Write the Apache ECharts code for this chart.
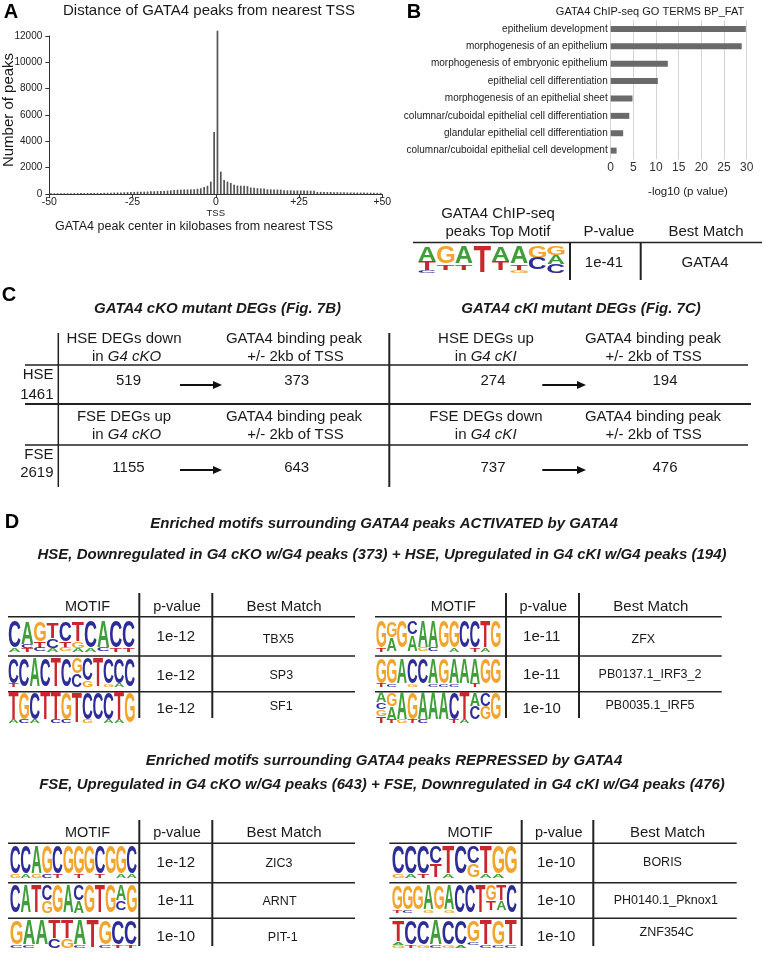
<!DOCTYPE html>
<html><head><meta charset="utf-8">
<script src="https://cdn.jsdelivr.net/npm/echarts@6/dist/echarts.min.js"></script>
<style>html,body{margin:0;padding:0;background:#fff}#c{width:765px;height:956px}</style>
</head><body><div id="c"></div>
<script>
// ---------------- DATA ----------------
// Panel A: peak counts per 1-kb bin, -50..0 kb and 0..+50 kb
const histCountsLeft = [50,50,55,55,60,60,60,65,65,70, 70,75,75,80,80,85,90,95,100,110,
  115,120,130,140,150,160,170,175,180,190, 200,210,220,230,240,260,280,300,320,330,
  340,350,355,360,400,430,530,630,940,4700];
const histCountsRight = [12400,1700,1060,940,840,700,640,630,620,600, 490,470,440,430,420,360,350,350,340,330,
  290,280,280,270,270,270,260,260,250,250, 160,160,150,150,150,140,140,130,130,120,
  120,120,110,110,110,100,100,100,90,90];
const histTickValues = [-50,-25,0,25,50];
const histTickLabels = ['-50','-25','0','+25','+50'];
const histTitle = 'Distance of GATA4 peaks from nearest TSS';
const histYName = 'Number of peaks';
const histXName = 'GATA4 peak center in kilobases from nearest TSS';

// Panel B: GO terms
const goTitle = 'GATA4 ChIP-seq GO TERMS BP_FAT';
const goTerms = ['epithelium development','morphogenesis of an epithelium','morphogenesis of embryonic epithelium',
  'epithelial cell differentiation','morphogenesis of an epithelial sheet','columnar/cuboidal epithelial cell differentiation',
  'glandular epithelial cell differentiation','columnar/cuboidal epithelial cell development'];
const goValues = [29.8, 28.9, 12.6, 10.4, 4.8, 4.1, 2.75, 1.3];
const goXName = '-log10 (p value)';

// Panel B: top motif table
const topMotifHeader = ['GATA4 ChIP-seq', 'peaks Top Motif', 'P-value', 'Best Match'];
const topMotifLogo = ['A5T3C1','G6T2','A6T2','T9','A5T3','A6T2G1','G4C4','G3A3C3'];
const topMotifP = '1e-41';
const topMotifMatch = 'GATA4';

// Panel C
const cTitles = ['GATA4 cKO mutant DEGs (Fig. 7B)', 'GATA4 cKI mutant DEGs (Fig. 7C)'];
const cRowLabels = [['HSE','1461'], ['FSE','2619']];
const cKOHeads = [['HSE DEGs down','G4 cKO'], ['FSE DEGs up','G4 cKO']];
const cKIHeads = [['HSE DEGs up','G4 cKI'], ['FSE DEGs down','G4 cKI']];
const cPeakHead = ['GATA4 binding peak', '+/- 2kb of TSS'];
const cKODegs = [519, 1155];
const cKOPeaks = [373, 643];
const cKIDegs = [274, 737];
const cKIPeaks = [194, 476];

// Panel D
const dTitles = ['Enriched motifs surrounding GATA4 peaks ACTIVATED by GATA4',
  'HSE, Downregulated in G4 cKO w/G4 peaks (373) + HSE, Upregulated in G4 cKI w/G4 peaks (194)',
  'Enriched motifs surrounding GATA4 peaks REPRESSED by GATA4',
  'FSE, Upregulated in G4 cKO w/G4 peaks (643) + FSE, Downregulated in G4 cKI w/G4 peaks (476)'];
const dHeader = ['MOTIF','p-value','Best Match'];
const actLeftNames = ['TBX5','SP3','SF1'];
const actLeftP = ['1e-12','1e-12','1e-12'];
const actLeftLogos = [
  ['C8A1','A7C1T1','G6T2C1','T5C3A1','C6T2G1','T6G2A1','C8A1','A8C1','C8T1','C8T1'],
  ['C8T1','C9','A9','C9','T9','C9','G5C4','C7G2','T9','C8G1','C8A1','C9'],
  ['T8A1','G8C1','C8A1','T8','T8C1','G8C1','T9','C8G1','C8','C8A1','T8A1','G9']];
const actRightNames = ['ZFX','PB0137.1_IRF3_2','PB0035.1_IRF5'];
const actRightP = ['1e-11','1e-11','1e-10'];
const actRightLogos = [
  ['G8T1','G5A4','G8','C4A5','A8G1','A8C1','G8','G8A1','C8','C8T1','T8A1','G8'],
  ['G8T1','G8C1','A8','C8G1','C8','A8C1','G8C1','A8C1','A8','A8T1','G8','G8'],
  ['A3C2G2T2','G4A4T1','A8G1','G8T1','A8C1','A8','A8','C8T1','T8A1','A4C4','C4G4','G8']];
const repLeftNames = ['ZIC3','ARNT','PIT-1'];
const repLeftP = ['1e-12','1e-11','1e-10'];
const repLeftLogos = [
  ['C8G1','C8A1','A8G1','G8C1','C8T1','G8','G8T1','G8','C8T1','G8','G8A1','C8A1'],
  ['C9','A9','T9','C5G4','G9','A9','C5A4','G9','T9','G9','A5C3','G9'],
  ['G8C1','A8C1','A8','T6C3','T6G3','A8C1','T9','G8C1','C8T1','C8T1']];
const repRightNames = ['BORIS','PH0140.1_Pknox1','ZNF354C'];
const repRightP = ['1e-10','1e-10','1e-10'];
const repRightLogos = [
  ['C8G1','C8A1','C8T1','C5T4','T8A1','C8','C5G4','T8A1','G8A1','G8'],
  ['G8T1','G8C1','G8','A8G1','G8','A8G1','C9','C9','T9','G5T3','T5A3','C9'],
  ['T7A1G1','C8T1','C8G1','A8C1','C8G1','C8A1','G7C1','T8C1','G8C1','T8C1']];

// ---------------- DRAWING ----------------
const LF = '"Liberation Sans", Arial, Helvetica, sans-serif';
const INK = '#1a1a1a';
function fnt(size, weight, style) { return (style || 'normal') + ' ' + (weight || 'normal') + ' ' + size + 'px ' + LF; }
const els = [];
function txt(x, y, s, size, opt) {
  opt = opt || {};
  const al = opt.align || 'center';
  const st = {text: s, x: 0, y: 0, font: fnt(size, opt.weight, opt.style), fill: opt.fill || INK,
    textAlign: al, textVerticalAlign: 'middle', align: al, verticalAlign: 'middle'};
  if (opt.rich) st.rich = opt.rich;
  els.push({type: 'text', silent: true, x: x, y: y, rotation: opt.rot || 0, style: st});
}
function ln(x1, y1, x2, y2, w, c) {
  els.push({type: 'line', silent: true, shape: {x1, y1, x2, y2}, style: {stroke: c || '#222', lineWidth: w || 1.5}});
}
function arrow(x1, x2, y) {
  ln(x1, y, x2 - 8, y, 2, '#111');
  els.push({type: 'polygon', silent: true, shape: {points: [[x2 - 9, y - 4], [x2, y], [x2 - 9, y + 4]]}, style: {fill: '#111'}});
}
const LOGO_FONT = 'bold 100px "Liberation Sans", Arial, sans-serif';
const LOGO_COLORS = {A: '#3f9e3a', C: '#2c2d98', G: '#f2a42c', T: '#c8282d'};
const mctx = document.createElement('canvas').getContext('2d');
mctx.font = LOGO_FONT; mctx.textBaseline = 'middle'; mctx.textAlign = 'center';
const mcache = {};
function measure(L) {
  if (!mcache[L]) {
    const m = mctx.measureText(L);
    mcache[L] = {asc: m.actualBoundingBoxAscent, h: m.actualBoundingBoxAscent + m.actualBoundingBoxDescent,
      left: m.actualBoundingBoxLeft, w: m.actualBoundingBoxLeft + m.actualBoundingBoxRight};
  }
  return mcache[L];
}
function logo(cols, x0, x1, y0, y1) {
  const n = cols.length, cw = (x1 - x0) / n, H = y1 - y0;
  cols.forEach((spec, i) => {
    const parts = spec.match(/[ACGT]\d/g);
    let y = y0;
    parts.forEach(p => {
      const L = p[0], h = (+p[1]) / 10 * H;
      if (h >= 0.8) {
        const m = measure(L);
        const sx = (cw * 0.94) / m.w, sy = (h * 0.96) / m.h;
        const gx = x0 + i * cw + cw * 0.03;
        els.push({type: 'text', silent: true, x: gx + m.left * sx, y: y + m.asc * sy, scaleX: sx, scaleY: sy,
          style: {text: L, x: 0, y: 0, font: LOGO_FONT, fill: LOGO_COLORS[L], textAlign: 'center', textVerticalAlign: 'middle', align: 'center', verticalAlign: 'middle'}});
      }
      y += h;
    });
  });
}

// Panel letters
txt(11, 12, 'A', 20, {weight: 'bold', fill: '#000'});
txt(414, 12, 'B', 20, {weight: 'bold', fill: '#000'});
txt(9, 295, 'C', 20, {weight: 'bold', fill: '#000'});
txt(12, 522, 'D', 20, {weight: 'bold', fill: '#000'});

// Panel A texts
txt(209, 11, histTitle, 15);
txt(9, 110, histYName, 15, {rot: Math.PI / 2});
txt(194, 227, histXName, 12.5);

// Panel B texts
txt(650, 12, goTitle, 11);
txt(688, 192, goXName, 11.5);
txt(498, 214, topMotifHeader[0], 15);
txt(498, 232, topMotifHeader[1], 15);
txt(609, 232, topMotifHeader[2], 15);
txt(706, 232, topMotifHeader[3], 15);
ln(413, 242.5, 762, 242.5, 1.5);
ln(570, 242.5, 570, 280, 2);
ln(640.7, 242.5, 640.7, 280, 2);
txt(604, 262.5, topMotifP, 15);
txt(705, 262.5, topMotifMatch, 15);
logo(topMotifLogo, 418, 565, 246.5, 276);

// Panel C
const itRich = {i: {font: fnt(15, 'normal', 'italic'), fontSize: 15, fontFamily: LF, fontStyle: 'italic', fill: INK}};
txt(217.5, 308.5, cTitles[0], 15, {weight: 'bold', style: 'italic'});
txt(581, 308.5, cTitles[1], 15, {weight: 'bold', style: 'italic'});
ln(58.3, 333, 58.3, 487, 1.5);
ln(389.3, 333, 389.3, 487, 2);
ln(25, 365, 748, 365, 1.5);
ln(25, 404, 751, 404, 2);
ln(25, 445, 748, 445, 1.5);
const cRowY = [[339.3, 357.3, 381, 385, 375, 395], [417.3, 435, 468.3, 470, 455, 473.3]];
for (let r = 0; r < 2; r++) {
  const [h1, h2, vy, ay, l1, l2] = cRowY[r];
  txt(53.5, l1, cRowLabels[r][0], 15, {align: 'right'});
  txt(53.5, l2, cRowLabels[r][1], 15, {align: 'right'});
  txt(124, h1, cKOHeads[r][0], 15);
  txt(126.5, h2, 'in {i|' + cKOHeads[r][1] + '}', 15, {rich: itRich});
  txt(294, h1, cPeakHead[0], 15);
  txt(295.5, h2, cPeakHead[1], 15);
  txt(128.5, vy, String(cKODegs[r]), 15);
  arrow(180, 222, ay);
  txt(296.7, vy, String(cKOPeaks[r]), 15);
  txt(486, h1, cKIHeads[r][0], 15);
  txt(485.7, h2, 'in {i|' + cKIHeads[r][1] + '}', 15, {rich: itRich});
  txt(653, h1, cPeakHead[0], 15);
  txt(653.7, h2, cPeakHead[1], 15);
  txt(493, vy, String(cKIDegs[r]), 15);
  arrow(542.3, 586, ay);
  txt(665, vy, String(cKIPeaks[r]), 15);
}

// Panel D
txt(384, 523.5, dTitles[0], 15, {weight: 'bold', style: 'italic'});
txt(382, 555, dTitles[1], 15, {weight: 'bold', style: 'italic'});
txt(384, 761, dTitles[2], 15, {weight: 'bold', style: 'italic'});
txt(382, 785, dTitles[3], 15, {weight: 'bold', style: 'italic'});

function motifTable(L) {
  txt(L.hx[0], L.hy, dHeader[0], 14.5);
  txt(L.hx[1], L.hy, dHeader[1], 14.5);
  txt(L.hx[2], L.hy, dHeader[2], 15);
  ln(L.lx0, L.lines[0], L.lx1, L.lines[0], 1.5);
  ln(L.lx0, L.lines[1], L.lx1, L.lines[1], 1.5);
  ln(L.lx0, L.lines[2], L.lx1, L.lines[2], 1.5);
  ln(L.v[0], L.vy0, L.v[0], L.vy1, 2);
  ln(L.v[1], L.vy0, L.v[1], L.vy1, 2);
  for (let r = 0; r < 3; r++) {
    txt(L.px, L.py[r], L.p[r], 15);
    txt(L.nx[r], L.ny[r], L.names[r], 12.5);
    logo(L.logos[r], L.gx0, L.gx1, L.gy[r][0], L.gy[r][1]);
  }
}
motifTable({hx: [87.5, 177, 284], hy: 606.7, lx0: 8, lx1: 355, lines: [616.7, 656, 691.7], v: [139.3, 212.3], vy0: 593, vy1: 718,
  px: 175.8, py: [636.7, 676, 709.3], nx: [278.3, 281.3, 281.2], ny: [639.3, 676, 706.7],
  p: actLeftP, names: actLeftNames, logos: actLeftLogos, gx0: 8.3, gx1: 135, gy: [[621.5, 655], [658, 690.5], [692.5, 727]]});
motifTable({hx: [453.3, 543.3, 650.8], hy: 606.7, lx0: 375, lx1: 721.7, lines: [616.7, 656, 691.7], v: [506, 579], vy0: 593, vy1: 718,
  px: 541.7, py: [636.7, 675, 709.3], nx: [643.3, 650, 650], ny: [639.3, 675, 706],
  p: actRightP, names: actRightNames, logos: actRightLogos, gx0: 376, gx1: 501, gy: [[621.5, 655], [658, 690.5], [692.5, 727]]});
motifTable({hx: [87.5, 177, 284], hy: 833.3, lx0: 8, lx1: 355, lines: [843.3, 882.7, 918.3], v: [139.3, 212.3], vy0: 820, vy1: 946,
  px: 175.8, py: [863.3, 901, 936.7], nx: [279, 279.5, 282.8], ny: [863.3, 901.7, 938],
  p: repLeftP, names: repLeftNames, logos: repLeftLogos, gx0: 10, gx1: 137, gy: [[846.5, 881.5], [885, 916.5], [920, 951.5]]});
motifTable({hx: [470, 558.7, 667.5], hy: 833.3, lx0: 389.3, lx1: 736.7, lines: [843.3, 882.7, 918.3], v: [521.7, 593.3], vy0: 820, vy1: 946,
  px: 556.2, py: [863.3, 901, 936.7], nx: [662.5, 665.8, 666.7], ny: [862.7, 901, 932.7],
  p: repRightP, names: repRightNames, logos: repRightLogos, gx0: 392, gx1: 517, gy: [[846.5, 881.5], [885, 916.5], [920, 951.5]]});

// Histogram data (bin centres)
const histData = [];
histCountsLeft.forEach((v, i) => histData.push([-50 + i + 0.5, v]));
histCountsRight.forEach((v, i) => histData.push([i + 0.5, v]));

const chart = echarts.init(document.getElementById('c'), null, {renderer: 'canvas'});
chart.setOption({
  animation: false,
  backgroundColor: '#fff',
  textStyle: {fontFamily: LF},
  grid: [
    {left: 49.3, right: 382.7, top: 36, bottom: 762},
    {left: 610.7, right: 18.3, top: 20.3, height: 139}
  ],
  xAxis: [
    {type: 'value', gridIndex: 0, min: -50, max: 50, interval: 25,
     axisLine: {show: true, onZero: false, lineStyle: {color: '#333', width: 1}},
     axisTick: {show: true, length: 4, lineStyle: {color: '#333'}},
     splitLine: {show: false},
     axisLabel: {margin: 3, color: '#222', fontSize: 10.5, fontFamily: LF, lineHeight: 10,
       formatter: v => { const k = histTickValues.indexOf(v); const s = k >= 0 ? histTickLabels[k] : ''; return v === 0 ? '{a|' + s + '}\n{t|TSS}' : s; },
       rich: {a: {fontSize: 10.5, fontFamily: LF, color: '#222', lineHeight: 11}, t: {fontSize: 9.5, fontFamily: LF, color: '#222', lineHeight: 10}}}},
    {type: 'value', gridIndex: 1, min: 0, max: 30, interval: 5,
     axisLine: {show: false}, axisTick: {show: false},
     splitLine: {show: true, lineStyle: {color: '#d4d4d4', width: 1}},
     axisLabel: {margin: 2, color: '#333', fontSize: 12, fontFamily: LF}}
  ],
  yAxis: [
    {type: 'value', gridIndex: 0, min: 0, max: 12000, interval: 2000,
     axisLine: {show: true, onZero: false, lineStyle: {color: '#333', width: 1}},
     axisTick: {show: true, length: 4, lineStyle: {color: '#333'}},
     splitLine: {show: false},
     axisLabel: {margin: 7, color: '#222', fontSize: 10, fontFamily: LF, formatter: v => String(v)}},
    {type: 'category', gridIndex: 1, data: goTerms, inverse: true,
     axisLine: {show: false}, axisTick: {show: false},
     axisLabel: {margin: 3, color: '#222', fontSize: 10, fontFamily: LF}}
  ],
  series: [
    {type: 'bar', xAxisIndex: 0, yAxisIndex: 0, data: histData, barWidth: 1.7, clip: false, silent: true,
     itemStyle: {color: '#555'}},
    {type: 'bar', xAxisIndex: 1, yAxisIndex: 1, data: goValues, barWidth: 6, silent: true,
     itemStyle: {color: '#6a6a6a'}}
  ],
  graphic: {elements: els}
});
</script>
</body></html>
